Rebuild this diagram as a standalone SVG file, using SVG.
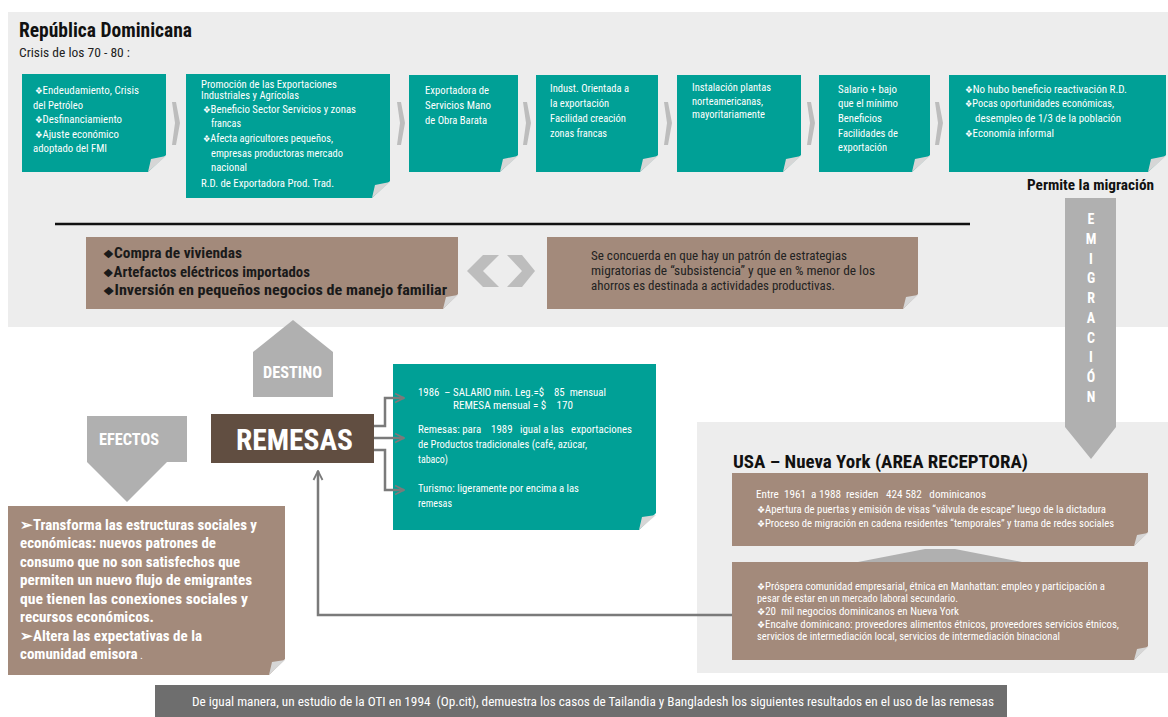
<svg xmlns="http://www.w3.org/2000/svg" width="1168" height="717" viewBox="0 0 1168 717">
<defs>
<style>
text{font-family:'Liberation Sans Narrow','Roboto Condensed','Arial Narrow','Liberation Sans',sans-serif;}
.teal{fill:#00A096;}
.brown{fill:#A38A7B;}
.fold{fill:#D6D6D6;}
.chev{fill:#BDBDBD;}
.w{fill:#FFFFFF;font-size:11.5px;}
.ws{fill:#FFFFFF;font-size:11px;}
.wn{fill:#FFFFFF;font-size:10.7px;}
.wb{fill:#FFFFFF;font-size:15px;font-weight:bold;}
.db{fill:#1A1A1A;font-size:14px;font-weight:bold;}
.d{fill:#222222;font-size:13.5px;}
.b{font-size:0.8em;}
.gshape{fill:#B0B0B0;}
.conn{fill:none;stroke:#7A7A7A;stroke-width:2.5;}
</style>
<marker id="open" viewBox="0 0 10 10" refX="9" refY="5" markerWidth="4.5" markerHeight="4.5" orient="auto" markerUnits="strokeWidth">
<path d="M1,1 L9,5 L1,9" fill="none" stroke="#7A7A7A" stroke-width="1.6"/>
</marker>
</defs>
<rect width="1168" height="717" fill="#FFFFFF"/>
<rect x="8" y="12" width="1160" height="315" fill="#EDEDED"/>
<rect x="697" y="422" width="471" height="251" fill="#EDEDED"/>

<g id="title">
<text x="19" y="37" textLength="173" lengthAdjust="spacingAndGlyphs" style="font-size:19.5px;font-weight:bold;fill:#111">República Dominicana</text>
<text x="19" y="57" textLength="111" lengthAdjust="spacingAndGlyphs" style="font-size:13.5px;fill:#222">Crisis de los 70 - 80 :</text>
</g>

<g id="chevrons">
<polygon class="chev" points="172,102 176,102 180,123 176,145 172,145 175,123"/>
<polygon class="chev" points="397,102 401,102 405,123 401,145 397,145 400,123"/>
<polygon class="chev" points="523,102 527,102 531,123 527,145 523,145 526,123"/>
<polygon class="chev" points="664,102 668,102 672,123 668,145 664,145 667,123"/>
<polygon class="chev" points="807,102 811,102 815,123 811,145 807,145 810,123"/>
<polygon class="chev" points="935,102 939,102 943,123 939,145 935,145 938,123"/>
</g>

<g id="box1">
<polygon class="teal" points="22,74 166,74 166,155 148,172 22,172"/>
<polygon class="fold" points="148,172 166,156 151,159"/>
<text class="w" x="35" y="94" textLength="104" lengthAdjust="spacingAndGlyphs"><tspan class="b">❖</tspan>Endeudamiento, Crisis</text>
<text class="w" x="33" y="109" textLength="50" lengthAdjust="spacingAndGlyphs">del Petróleo</text>
<text class="w" x="35" y="123" textLength="87" lengthAdjust="spacingAndGlyphs"><tspan class="b">❖</tspan>Desfinanciamiento</text>
<text class="w" x="35" y="138" textLength="84" lengthAdjust="spacingAndGlyphs"><tspan class="b">❖</tspan>Ajuste económico</text>
<text class="w" x="33" y="152" textLength="74" lengthAdjust="spacingAndGlyphs">adoptado del FMI</text>
</g>

<g id="box2">
<polygon class="teal" points="186,74 390,74 390,181 372,198 186,198"/>
<polygon class="fold" points="372,198 390,182 375,185"/>
<text class="ws" x="201" y="88" textLength="136" lengthAdjust="spacingAndGlyphs">Promoción de las Exportaciones</text>
<text class="ws" x="201" y="99" textLength="98" lengthAdjust="spacingAndGlyphs">Industriales y Agrícolas</text>
<text class="w" x="203" y="113" textLength="153" lengthAdjust="spacingAndGlyphs"><tspan class="b">❖</tspan>Beneficio Sector Servicios y zonas</text>
<text class="w" x="211" y="127" textLength="30" lengthAdjust="spacingAndGlyphs">francas</text>
<text class="w" x="203" y="142" textLength="130" lengthAdjust="spacingAndGlyphs"><tspan class="b">❖</tspan>Afecta agricultores pequeños,</text>
<text class="w" x="211" y="157" textLength="132" lengthAdjust="spacingAndGlyphs">empresas productoras mercado</text>
<text class="w" x="211" y="171" textLength="36" lengthAdjust="spacingAndGlyphs">nacional</text>
<text class="w" x="201" y="187" textLength="133" lengthAdjust="spacingAndGlyphs">R.D. de Exportadora Prod. Trad.</text>
</g>

<g id="box3">
<polygon class="teal" points="409,75 518,75 518,155 500,172 409,172"/>
<polygon class="fold" points="500,172 518,156 503,159"/>
<text class="w" x="425" y="94" textLength="64" lengthAdjust="spacingAndGlyphs">Exportadora de</text>
<text class="w" x="425" y="109" textLength="66" lengthAdjust="spacingAndGlyphs">Servicios Mano</text>
<text class="w" x="425" y="124" textLength="62" lengthAdjust="spacingAndGlyphs">de Obra Barata</text>
</g>

<g id="box4">
<polygon class="teal" points="536,75 658,75 658,155 640,172 536,172"/>
<polygon class="fold" points="640,172 658,156 643,159"/>
<text class="w" x="550" y="92" textLength="79" lengthAdjust="spacingAndGlyphs">Indust. Orientada a</text>
<text class="w" x="550" y="107" textLength="59" lengthAdjust="spacingAndGlyphs">la exportación</text>
<text class="w" x="550" y="122" textLength="76" lengthAdjust="spacingAndGlyphs">Facilidad creación</text>
<text class="w" x="550" y="137" textLength="57" lengthAdjust="spacingAndGlyphs">zonas francas</text>
</g>

<g id="box5">
<polygon class="teal" points="677,75 801,75 801,155 783,172 677,172"/>
<polygon class="fold" points="783,172 801,156 786,159"/>
<text class="w" x="692" y="91" textLength="79" lengthAdjust="spacingAndGlyphs">Instalación plantas</text>
<text class="w" x="692" y="105" textLength="71" lengthAdjust="spacingAndGlyphs">norteamericanas,</text>
<text class="w" x="692" y="118" textLength="73" lengthAdjust="spacingAndGlyphs">mayoritariamente</text>
</g>

<g id="box6">
<polygon class="teal" points="819,75 930,75 930,155 912,172 819,172"/>
<polygon class="fold" points="912,172 930,156 915,159"/>
<text class="w" x="838" y="93" textLength="59" lengthAdjust="spacingAndGlyphs">Salario + bajo</text>
<text class="w" x="838" y="107" textLength="60" lengthAdjust="spacingAndGlyphs">que el mínimo</text>
<text class="w" x="838" y="122" textLength="44" lengthAdjust="spacingAndGlyphs">Beneficios</text>
<text class="w" x="838" y="137" textLength="60" lengthAdjust="spacingAndGlyphs">Facilidades de</text>
<text class="w" x="838" y="151" textLength="49" lengthAdjust="spacingAndGlyphs">exportación</text>
</g>

<g id="box7">
<polygon class="teal" points="949,75 1166,75 1166,155 1148,172 949,172"/>
<polygon class="fold" points="1148,172 1166,156 1151,159"/>
<text class="w" x="965" y="93" textLength="162" lengthAdjust="spacingAndGlyphs"><tspan class="b">❖</tspan>No hubo beneficio reactivación R.D.</text>
<text class="w" x="965" y="107" textLength="149" lengthAdjust="spacingAndGlyphs"><tspan class="b">❖</tspan>Pocas oportunidades económicas,</text>
<text class="w" x="975" y="122" textLength="146" lengthAdjust="spacingAndGlyphs">desempleo de 1/3 de la población</text>
<text class="w" x="965" y="137" textLength="89" lengthAdjust="spacingAndGlyphs"><tspan class="b">❖</tspan>Economía informal</text>
</g>

<g id="permite">
<text x="1027" y="190" textLength="127" lengthAdjust="spacingAndGlyphs" style="font-size:15px;font-weight:bold;fill:#111">Permite la migración</text>
</g>

<line x1="55" y1="224" x2="970" y2="224" stroke="#111" stroke-width="2.5"/>

<g id="usos">
<polygon class="brown" points="86,237 458,237 458,294 443,309 86,309"/>
<polygon class="fold" points="443,309 458,295 446,297"/>
<text class="db" x="103" y="258" textLength="139" lengthAdjust="spacingAndGlyphs"><tspan class="b">❖</tspan>Compra de viviendas</text>
<text class="db" x="103" y="277" textLength="207" lengthAdjust="spacingAndGlyphs"><tspan class="b">❖</tspan>Artefactos eléctricos importados</text>
<text class="db" x="103" y="295" textLength="344" lengthAdjust="spacingAndGlyphs"><tspan class="b">❖</tspan>Inversión en pequeños negocios de manejo familiar</text>
</g>

<g id="dblarrow">
<polygon class="chev" points="467,271 483,255 499,255 483,271 499,287 483,287"/>
<polygon class="chev" points="507,255 522,255 535,271 522,287 507,287 522,271"/>
</g>

<g id="concuerda">
<polygon class="brown" points="547,237 918,237 918,294 903,309 547,309"/>
<polygon class="fold" points="903,309 918,295 906,297"/>
<text class="d" x="591" y="260" textLength="256" lengthAdjust="spacingAndGlyphs">Se concuerda en que hay un patrón de estrategias</text>
<text class="d" x="591" y="275" textLength="284" lengthAdjust="spacingAndGlyphs">migratorias de “subsistencia” y que en % menor de los</text>
<text class="d" x="591" y="290" textLength="244" lengthAdjust="spacingAndGlyphs">ahorros es destinada a actividades productivas.</text>
</g>

<g id="emigracion">
<polygon class="gshape" points="1065,198 1116,198 1116,427 1091,459 1065,427"/>
<g style="font-size:14px;font-weight:bold;fill:#FFFFFF" text-anchor="middle">
<text x="1091" y="224">E</text>
<text x="1091" y="244">M</text>
<text x="1091" y="264">I</text>
<text x="1091" y="283">G</text>
<text x="1091" y="303">R</text>
<text x="1091" y="323">A</text>
<text x="1091" y="343">C</text>
<text x="1091" y="362">I</text>
<text x="1091" y="382">Ó</text>
<text x="1091" y="402">N</text>
</g>
</g>

<g id="destino">
<polygon class="gshape" points="253,352 293,320 333,352 333,397 253,397"/>
<text x="263" y="378" textLength="59" lengthAdjust="spacingAndGlyphs" style="font-size:16px;font-weight:bold;fill:#FFFFFF">DESTINO</text>
</g>

<g id="efectos">
<polygon class="gshape" points="87,416 187,416 187,462 167,462 127,502 87,462"/>
<text x="99" y="445" textLength="60" lengthAdjust="spacingAndGlyphs" style="font-size:16px;font-weight:bold;fill:#FFFFFF">EFECTOS</text>
</g>

<g id="remesas">
<rect x="211" y="414" width="163" height="49" fill="#614E41"/>
<text x="236" y="450" textLength="117" lengthAdjust="spacingAndGlyphs" style="font-size:30px;font-weight:bold;fill:#FFFFFF">REMESAS</text>
</g>

<g id="datos">
<polygon class="teal" points="393,364 656,364 656,513 639,530 393,530"/>
<polygon class="fold" points="639,530 656,515 642,517"/>
<text class="ws" x="418" y="396" textLength="188" lengthAdjust="spacingAndGlyphs" xml:space="preserve">1986  – SALARIO mín. Leg.=$    85  mensual</text>
<text class="ws" x="453" y="409" textLength="120" lengthAdjust="spacingAndGlyphs" xml:space="preserve">REMESA mensual = $    170</text>
<text class="ws" x="418" y="433" textLength="214" lengthAdjust="spacingAndGlyphs" xml:space="preserve">Remesas: para    1989   igual a las   exportaciones</text>
<text class="ws" x="418" y="448" textLength="169" lengthAdjust="spacingAndGlyphs">de Productos tradicionales (café, azúcar,</text>
<text class="ws" x="418" y="463" textLength="30" lengthAdjust="spacingAndGlyphs">tabaco)</text>
<text class="ws" x="418" y="492" textLength="161" lengthAdjust="spacingAndGlyphs">Turismo: ligeramente por encima a las</text>
<text class="ws" x="418" y="507" textLength="34" lengthAdjust="spacingAndGlyphs">remesas</text>
</g>

<g id="transforma">
<polygon class="brown" points="8,506 285,506 285,659 269,675 8,675"/>
<polygon class="fold" points="269,675 285,660 272,662"/>
<text class="wb" x="20" y="530" textLength="237" lengthAdjust="spacingAndGlyphs">➢Transforma las estructuras sociales y</text>
<text class="wb" x="20" y="548" textLength="196" lengthAdjust="spacingAndGlyphs">económicas: nuevos patrones de</text>
<text class="wb" x="20" y="567" textLength="220" lengthAdjust="spacingAndGlyphs">consumo que no son satisfechos que</text>
<text class="wb" x="20" y="585" textLength="232" lengthAdjust="spacingAndGlyphs">permiten un nuevo flujo de emigrantes</text>
<text class="wb" x="20" y="604" textLength="228" lengthAdjust="spacingAndGlyphs">que tienen las conexiones sociales y</text>
<text class="wb" x="20" y="622" textLength="134" lengthAdjust="spacingAndGlyphs">recursos económicos.</text>
<text class="wb" x="20" y="641" textLength="182" lengthAdjust="spacingAndGlyphs">➢Altera las expectativas de la</text>
<text class="wb" x="20" y="659">comunidad emisora<tspan style="font-weight:normal;font-size:11px"> .</tspan></text>
</g>

<g id="usa">
<text x="733" y="468" textLength="295" lengthAdjust="spacingAndGlyphs" style="font-size:19px;font-weight:bold;fill:#111">USA – Nueva York (AREA RECEPTORA)</text>
<polygon class="brown" points="732,473 1148,473 1148,532 1134,546 732,546"/>
<polygon class="fold" points="1134,546 1148,533 1137,535"/>
<text class="wn" x="756" y="498" textLength="230" lengthAdjust="spacingAndGlyphs" xml:space="preserve">Entre  1961  a 1988  residen   424 582   dominicanos</text>
<text class="wn" x="757" y="513" textLength="349" lengthAdjust="spacingAndGlyphs"><tspan class="b">❖</tspan>Apertura de puertas y emisión de visas “válvula de escape” luego de la dictadura</text>
<text class="wn" x="757" y="527" textLength="357" lengthAdjust="spacingAndGlyphs"><tspan class="b">❖</tspan>Proceso de migración en cadena residentes “temporales” y trama de redes sociales</text>
</g>

<g id="link">
<polygon class="gshape" points="858,562 925,549 955,549 1022,562"/>
</g>

<g id="ny">
<polygon class="brown" points="732,562 1148,562 1148,646 1134,660 732,660"/>
<polygon class="fold" points="1134,660 1148,647 1137,649"/>
<text class="wn" x="757" y="590" textLength="348" lengthAdjust="spacingAndGlyphs"><tspan class="b">❖</tspan>Próspera comunidad empresarial, étnica en Manhattan: empleo y participación a</text>
<text class="wn" x="757" y="602" textLength="201" lengthAdjust="spacingAndGlyphs">pesar de estar en un mercado laboral secundario.</text>
<text class="wn" x="757" y="615" textLength="202" lengthAdjust="spacingAndGlyphs" xml:space="preserve"><tspan class="b">❖</tspan>20  mil negocios dominicanos en Nueva York</text>
<text class="wn" x="757" y="628" textLength="362" lengthAdjust="spacingAndGlyphs"><tspan class="b">❖</tspan>Encalve dominicano: proveedores alimentos étnicos, proveedores servicios étnicos,</text>
<text class="wn" x="757" y="640" textLength="303" lengthAdjust="spacingAndGlyphs">servicios de intermediación local, servicios de intermediación binacional</text>
</g>

<g id="connectors">
<polyline class="conn" points="374,426 385,426 385,398 404,398" marker-end="url(#open)"/>
<polyline class="conn" points="374,438 404,438" marker-end="url(#open)"/>
<polyline class="conn" points="374,450 385,450 385,490 404,490" marker-end="url(#open)"/>
<polyline class="conn" points="732,615 318,615 318,471" marker-end="url(#open)"/>
</g>

<g id="nota">
<rect x="155" y="685" width="852" height="32" fill="#6E6E6E"/>
<text x="192" y="706" textLength="802" lengthAdjust="spacingAndGlyphs" style="font-size:13.2px;fill:#FFFFFF" xml:space="preserve">De igual manera, un estudio de la OTI en 1994  (Op.cit), demuestra los casos de Tailandia y Bangladesh los siguientes resultados en el uso de las remesas</text>
</g>
</svg>
